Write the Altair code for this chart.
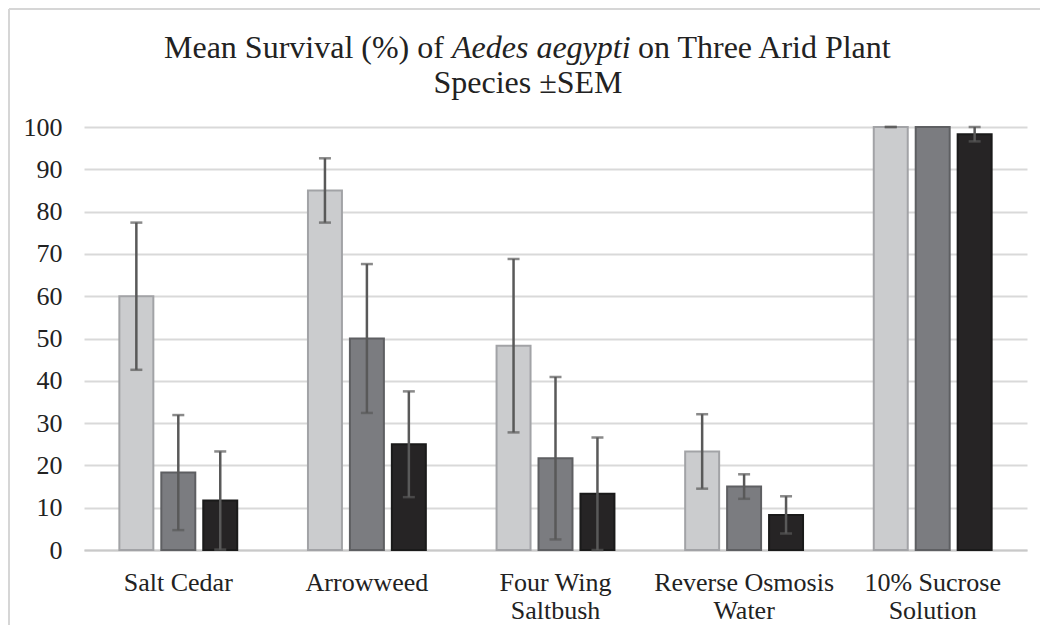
import altair as alt
import pandas as pd

# ---- data ----
categories = ["Salt Cedar", "Arrowweed", "Four Wing Saltbush",
              "Reverse Osmosis Water", "10% Sucrose Solution"]
label_lines = [["Salt Cedar"], ["Arrowweed"], ["Four Wing", "Saltbush"],
               ["Reverse Osmosis", "Water"], ["10% Sucrose", "Solution"]]
series = ["Series 1", "Series 2", "Series 3"]
mean_s1 = [60.0, 85.0, 48.3, 23.3, 100.0]
mean_s2 = [18.3, 50.0, 21.7, 15.0, 100.0]
mean_s3 = [11.7, 25.0, 13.3, 8.3, 98.3]
sem_s1 = [17.4, 7.6, 20.5, 8.8, 0.0]
sem_s2 = [13.6, 17.6, 19.2, 2.9, None]
sem_s3 = [11.6, 12.5, 13.3, 4.4, 1.7]

fills = ["#cbccce", "#7b7c80", "#262425"]
strokes = ["#a2a3a6", "#5e5f62", "#1a1a1a"]

title_a = "Mean Survival (%) of"
title_b = "Aedes aegypti"
title_c = "on Three Arid Plant"
title_2 = "Species \u00b1SEM"

rows = []
for s, means, sems in zip(series, [mean_s1, mean_s2, mean_s3], [sem_s1, sem_s2, sem_s3]):
    for c, m, e in zip(categories, means, sems):
        rows.append({"cat": c, "series": s, "mean": m,
                     "lo": None if e is None else m - e,
                     "hi": None if e is None else m + e})
df = pd.DataFrame(rows)

label_expr = " : ".join(
    f"datum.value == '{c}' ? {ll!r}" for c, ll in zip(categories, label_lines)
) + " : datum.label"

FONT = "Liberation Serif, Times New Roman, Times, serif"

x = alt.X("cat:N", sort=categories, title=None,
          scale=alt.Scale(paddingInner=0.375, paddingOuter=0.1875),
          axis=alt.Axis(labelAngle=0, labelFontSize=26, labelFont=FONT, labelColor="#222222",
                        labelPadding=19, labelLineHeight=28, labelExpr=label_expr,
                        ticks=False, domainColor="#c9c9c9", domainWidth=2, grid=False))
xo = alt.XOffset("series:N", sort=series, scale=alt.Scale(paddingInner=0.19, paddingOuter=0))
y = alt.Y("mean:Q", title=None,
          scale=alt.Scale(domain=[0, 100], nice=False),
          axis=alt.Axis(values=list(range(0, 101, 10)), labelFontSize=26, labelFont=FONT,
                        labelColor="#222222", labelPadding=22, ticks=False, domain=False,
                        gridColor="#d9d9d9", gridWidth=2))

base = alt.Chart(df)
bars = base.mark_bar(strokeWidth=2).encode(
    x=x, xOffset=xo, y=y,
    fill=alt.Fill("series:N", sort=series, scale=alt.Scale(domain=series, range=fills), legend=None),
    stroke=alt.Stroke("series:N", sort=series, scale=alt.Scale(domain=series, range=strokes), legend=None),
)
err_base = base.transform_filter("isValid(datum.hi)")
err = err_base.mark_rule(color="#595959", strokeWidth=2.5).encode(
    x=alt.X("cat:N", sort=categories), xOffset=alt.XOffset("series:N", sort=series),
    y=alt.Y("lo:Q"), y2="hi:Q")
cap_hi = err_base.mark_tick(color="#595959", size=12, thickness=2.5).encode(
    x=alt.X("cat:N", sort=categories), xOffset=alt.XOffset("series:N", sort=series), y="hi:Q")
cap_lo = err_base.mark_tick(color="#595959", size=12, thickness=2.5).encode(
    x=alt.X("cat:N", sort=categories), xOffset=alt.XOffset("series:N", sort=series), y="lo:Q")

def txt(s, xv, yv, align, style="normal"):
    return alt.Chart(pd.DataFrame({"t": [s]})).mark_text(
        font=FONT, fontSize=32, fontStyle=style, align=align, baseline="alphabetic",
        color="#222222").encode(text="t:N", x=alt.value(xv), y=alt.value(yv))

t1 = txt(title_a, 80, -69, "left")
t2 = txt(title_b, 368, -69, "left", "italic")
t3 = txt(title_c, 554, -69, "left")
t4 = txt(title_2, 444, -34, "center")

frame_src = pd.DataFrame({"k": [0]})
frame_v = alt.Chart(frame_src).mark_rule(color="#d6d6d6", strokeWidth=2).encode(
    x=alt.value(-75), y=alt.value(-118), y2=alt.value(500))
frame_h = alt.Chart(frame_src).mark_rule(color="#d6d6d6", strokeWidth=2).encode(
    y=alt.value(-118), x=alt.value(-75), x2=alt.value(990))

chart = alt.layer(bars, err, cap_hi, cap_lo, t1, t2, t3, t4, frame_v, frame_h).properties(
    width=943, height=423,
    autosize=alt.AutoSizeParams(type="none"),
    padding={"left": 76, "top": 119, "right": 13, "bottom": 75},
).configure_view(stroke=None)

chart.save("out.html", embed_options={"renderer": "svg", "actions": False})
